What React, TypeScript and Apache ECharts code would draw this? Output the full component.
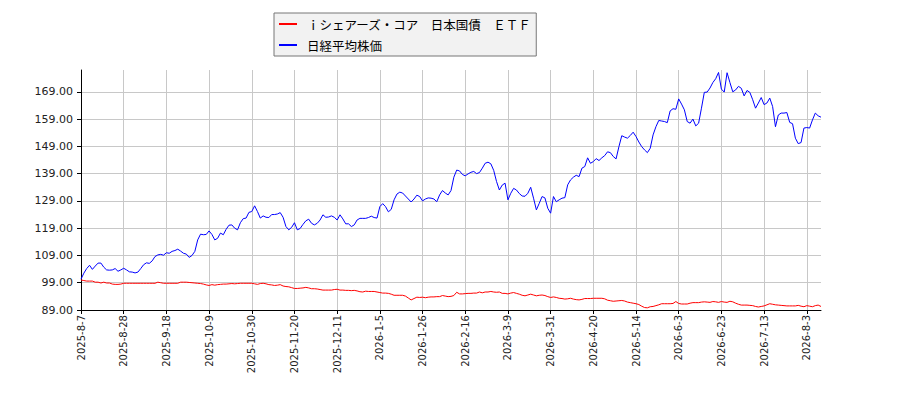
import { useEffect, useRef } from "react";
import * as echarts from "echarts";

// x-axis labels shown every 15 trading days
const labelDates = [
  "2025-8-7", "2025-8-28", "2025-9-18", "2025-10-9", "2025-10-30", "2025-11-20",
  "2025-12-11", "2026-1-5", "2026-1-26", "2026-2-16", "2026-3-9", "2026-3-31",
  "2026-4-20", "2026-5-14", "2026-6-3", "2026-6-23", "2026-7-13", "2026-8-3",
];
const stepDays = 15;
const tailPoints = 5;

const etfName = "ｉシェアーズ・コア　日本国債　ＥＴＦ";
const nikkeiName = "日経平均株価";

// ｉシェアーズ・コア 日本国債 ETF (indexed)
const etfValues = [
  100.0, 99.8, 99.6, 99.6, 99.6, 99.2, 99.2, 98.9, 99.2, 98.9, 98.9, 98.5, 98.4, 98.4, 98.5,
  98.8, 98.8, 98.8, 98.8, 98.8, 98.8, 98.8, 98.8, 98.8, 98.8, 98.8, 98.8, 99.2, 99.0, 98.8,
  98.8, 98.8, 98.8, 98.8, 98.8, 99.2, 99.2, 99.2, 99.1, 99.0, 98.9, 98.8, 98.7, 98.5, 98.2,
  98.0, 98.3, 98.1, 98.3, 98.4, 98.5, 98.5, 98.6, 98.7, 98.6, 98.7, 98.8, 98.8, 98.8, 98.8,
  98.8, 98.6, 98.4, 98.7, 98.8, 98.6, 98.3, 98.2, 98.0, 98.1, 98.3, 97.8, 97.6, 97.5, 97.2,
  96.9, 96.9, 97.0, 97.1, 97.3, 97.1, 96.8, 96.8, 96.7, 96.5, 96.3, 96.3, 96.3, 96.3, 96.5,
  96.6, 96.3, 96.3, 96.2, 96.2, 96.1, 96.2, 96.0, 95.7, 95.6, 95.9, 95.8, 95.8, 95.8, 95.6,
  95.4, 95.2, 95.2, 95.1, 94.8, 94.4, 94.4, 94.4, 94.4, 94.1, 93.4, 92.7, 93.2, 93.7, 93.6,
  93.7, 93.5, 93.7, 93.8, 93.8, 93.9, 93.9, 94.3, 94.1, 93.9, 94.0, 94.3, 95.5, 94.9, 94.9,
  95.0, 95.1, 95.1, 95.2, 95.2, 95.6, 95.3, 95.6, 95.6, 95.8, 95.6, 95.5, 95.6, 95.1, 95.1,
  94.9, 95.2, 95.4, 95.1, 94.8, 94.4, 94.2, 94.5, 94.8, 94.5, 94.2, 94.4, 94.5, 94.3, 93.9,
  93.6, 93.8, 93.6, 93.3, 93.2, 93.0, 93.1, 93.3, 93.0, 92.8, 92.7, 92.9, 93.2, 93.2, 93.2,
  93.3, 93.3, 93.3, 93.3, 93.1, 92.6, 92.4, 92.2, 92.3, 92.4, 92.5, 92.3, 91.9, 91.7, 91.5,
  91.3, 91.0, 90.4, 89.9, 89.8, 90.2, 90.3, 90.6, 90.9, 91.3, 91.3, 91.3, 91.3, 91.4, 92.1,
  91.4, 91.2, 91.2, 91.2, 91.5, 91.7, 91.7, 91.7, 91.9, 92.0, 91.9, 91.8, 92.1, 92.0, 91.8,
  92.1, 91.9, 91.8, 92.2, 92.0, 91.5, 91.1, 90.8, 90.8, 90.8, 90.7, 90.6, 90.3, 90.1, 90.3,
  90.5, 90.9, 91.3, 91.1, 90.9, 90.8, 90.7, 90.6, 90.5, 90.5, 90.5, 90.5, 90.7, 90.4, 90.2,
  90.6, 90.4, 90.2, 90.6, 90.8, 90.3,
];

// 日経平均株価 (indexed)
const nikkeiValues = [
  100.3, 102.5, 104.2, 105.4, 103.9, 105.1, 106.2, 106.2, 104.7, 103.7, 103.6, 103.7, 104.2, 103.2, 103.7,
  104.3, 103.7, 103.0, 102.9, 102.6, 102.9, 104.2, 105.6, 106.3, 106.1, 107.0, 108.6, 109.2, 109.4, 109.1,
  110.0, 109.8, 110.5, 110.8, 111.3, 110.6, 109.8, 109.5, 108.3, 109.0, 110.5, 114.7, 116.8, 116.6, 116.7,
  118.0, 116.7, 114.7, 115.3, 117.2, 116.6, 118.6, 120.1, 120.2, 119.0, 118.4, 121.0, 122.5, 122.7, 124.8,
  125.1, 127.2, 125.1, 122.7, 123.5, 123.0, 122.9, 124.0, 124.0, 124.2, 124.7, 123.0, 119.6, 118.4, 119.3,
  121.0, 118.4, 118.9, 120.4, 121.7, 122.3, 120.8, 120.2, 120.8, 122.0, 123.9, 123.0, 123.1, 123.5, 123.0,
  122.0, 123.9, 122.4, 120.6, 120.6, 119.6, 120.2, 122.0, 122.6, 122.6, 122.6, 122.9, 123.4, 122.9, 122.7,
  126.9, 128.0, 126.9, 125.0, 125.9, 129.4, 131.5, 132.2, 131.9, 130.8, 129.7, 128.6, 129.7, 131.1, 130.6,
  129.0, 129.7, 130.1, 130.0, 129.7, 128.7, 131.2, 132.8, 131.9, 131.2, 132.8, 137.7, 140.3, 140.0, 138.7,
  138.2, 138.9, 139.5, 139.8, 139.0, 139.4, 141.0, 142.8, 143.2, 142.6, 140.2, 136.1, 133.0, 134.8, 135.5,
  129.4, 131.8, 133.6, 133.0, 131.7, 130.8, 130.7, 131.8, 134.0, 130.0, 125.7, 128.1, 130.6, 130.1, 126.3,
  124.5, 130.6, 128.7, 129.4, 130.0, 130.2, 134.9, 136.7, 137.7, 138.4, 137.9, 141.0, 141.6, 144.8, 142.8,
  143.4, 144.5, 143.8, 144.8, 145.6, 147.0, 146.7, 145.3, 144.4, 148.9, 152.9, 152.4, 152.0, 153.0, 154.2,
  152.6, 150.6, 148.9, 147.7, 146.7, 148.3, 153.2, 156.2, 158.5, 158.3, 158.1, 157.7, 162.0, 162.8, 162.6,
  166.4, 164.5, 162.4, 158.1, 157.5, 159.0, 156.5, 157.5, 163.0, 168.8, 168.9, 170.4, 172.4, 173.8, 176.1,
  170.0, 168.9, 176.0, 172.4, 169.0, 169.7, 171.0, 170.3, 167.5, 169.5, 168.8, 166.1, 163.0, 164.9, 166.9,
  164.3, 164.9, 166.7, 163.6, 156.2, 160.5, 161.2, 161.2, 161.4, 157.8, 157.3, 152.0, 150.0, 150.4, 155.7,
  155.9, 155.7, 158.7, 161.2, 160.2, 159.7,
];

const yMin = 89;
const yMax = 177;
const yStep = 10;
const yTicks = [89, 99, 109, 119, 129, 139, 149, 159, 169];

function fmtDate(d: Date) {
  return `${d.getFullYear()}-${d.getMonth() + 1}-${d.getDate()}`;
}

function nextWeekday(d: Date) {
  const n = new Date(d);
  do {
    n.setDate(n.getDate() + 1);
  } while (n.getDay() === 0 || n.getDay() === 6);
  return n;
}

// trading days between the labelled dates
function buildCategories() {
  const out: string[] = [];
  labelDates.forEach((s, k) => {
    const [y, m, d] = s.split("-").map(Number);
    let cur = new Date(y, m - 1, d);
    out.push(s);
    const extra = k < labelDates.length - 1 ? stepDays - 1 : tailPoints;
    for (let j = 0; j < extra; j++) {
      cur = nextWeekday(cur);
      out.push(fmtDate(cur));
    }
  });
  return out;
}

export default function App() {
  const chartRef = useRef<HTMLDivElement>(null);

  useEffect(() => {
    document.body.style.margin = "0";
    if (!chartRef.current) return;
    const chart = echarts.init(chartRef.current, undefined, { renderer: "svg" });
    const categories = buildCategories();
    const gridColor = "#c8c8c8";

    const option: echarts.EChartsOption = {
      animation: false,
      backgroundColor: "#ffffff",
      legend: {
        orient: "vertical",
        left: 274,
        top: 13,
        backgroundColor: "#f2f2f2",
        borderColor: "#777777",
        borderWidth: 1,
        borderRadius: 0,
        padding: [3, 5, 3, 5],
        itemGap: 5,
        itemWidth: 18,
        itemHeight: 2,
        icon: "rect",
        textStyle: {
          fontFamily: "Noto Sans CJK JP",
          fontSize: 12.5,
          color: "#000",
          lineHeight: 16,
          padding: [0, 0, 0, 5],
        },
        data: [etfName, nikkeiName],
      },
      grid: { left: 81, right: 79, top: 70, bottom: 90, containLabel: false },
      xAxis: {
        type: "category",
        data: categories,
        boundaryGap: false,
        axisLine: { lineStyle: { color: "#000", width: 1 } },
        axisTick: { interval: stepDays - 1, length: 4, lineStyle: { color: "#000" } },
        axisLabel: {
          interval: stepDays - 1,
          rotate: 90,
          fontSize: 10,
          fontFamily: "DejaVu Sans",
          color: "#222",
          margin: 5,
        },
        splitLine: { show: true, interval: stepDays - 1, lineStyle: { color: gridColor, width: 1 } },
      },
      yAxis: {
        type: "value",
        min: yMin,
        max: yMax,
        interval: yStep,
        axisLine: { show: true, lineStyle: { color: "#000", width: 1 } },
        axisTick: { show: true, length: 4, lineStyle: { color: "#000" }, customValues: yTicks } as any,
        axisLabel: {
          fontSize: 11,
          fontFamily: "DejaVu Sans",
          color: "#222",
          margin: 8,
          customValues: yTicks,
          formatter: (v: number) => v.toFixed(2),
        } as any,
        splitLine: { show: true, lineStyle: { color: gridColor, width: 1 } },
      },
      series: [
        {
          name: etfName,
          type: "line",
          data: etfValues,
          symbol: "none",
          lineStyle: { color: "#ff0000", width: 1 },
          itemStyle: { color: "#ff0000" },
          z: 3,
        },
        {
          name: nikkeiName,
          type: "line",
          data: nikkeiValues,
          symbol: "none",
          lineStyle: { color: "#0000ff", width: 1 },
          itemStyle: { color: "#0000ff" },
          z: 2,
        },
      ],
    };
    chart.setOption(option);
    return () => {
      chart.dispose();
    };
  }, []);

  return <div ref={chartRef} style={{ width: 900, height: 400 }} aria-label="ETF vs Nikkei chart" />;
}
